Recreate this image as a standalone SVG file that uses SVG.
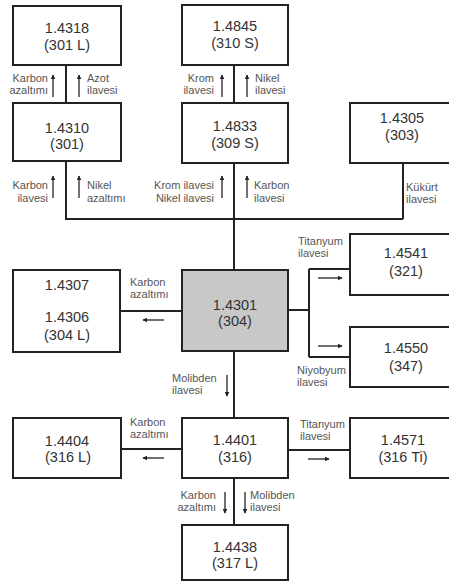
<svg xmlns="http://www.w3.org/2000/svg" width="449" height="586" viewBox="0 0 449 586">
<defs>
<marker id="ah" viewBox="0 0 8 8" refX="7" refY="4" markerWidth="5" markerHeight="5" orient="auto" markerUnits="userSpaceOnUse"><path d="M0,0 L8,4 L0,8 z" fill="#222"/></marker>
<style>
.box{fill:#fff;stroke:#222;stroke-width:2}
.gray{fill:#c8c8c8;stroke:#222;stroke-width:2}
.t{font-family:"Liberation Sans",Arial,sans-serif;font-size:14.5px;fill:#333;text-anchor:middle}
.l{font-family:"Liberation Sans",Arial,sans-serif;font-size:11px;fill:#555}
.r{text-anchor:end}
.c{fill:none;stroke:#222;stroke-width:2}
.a line{stroke:#222;stroke-width:1.3;marker-end:url(#ah)}
</style>
</defs>
<rect width="449" height="586" fill="#fff"/>
<g id="connectors">
<path class="c" d="M66,65 V103 M234,65 V103 M66,161 V219 H403 M234,161 V270 M403,163 V219 M120,311 H182 M288,310 H309 M309,269 V357 M309,269 H350 M309,357 H350 M234,351 V418 M121,449 H182 M288,450 H350 M234,478 V525"/>
<g class="a">
<line x1="53" y1="97" x2="53" y2="75"/><line x1="79" y1="97" x2="79" y2="75"/>
<line x1="222" y1="97" x2="222" y2="75"/><line x1="247" y1="97" x2="247" y2="75"/>
<line x1="53" y1="198" x2="53" y2="176"/><line x1="79" y1="198" x2="79" y2="176"/>
<line x1="222" y1="198" x2="222" y2="176"/><line x1="247" y1="198" x2="247" y2="176"/>
<line x1="318" y1="278" x2="342" y2="278"/><line x1="318" y1="346" x2="342" y2="346"/>
<line x1="164" y1="320" x2="143" y2="320"/><line x1="164" y1="458" x2="143" y2="458"/>
<line x1="308" y1="459" x2="329" y2="459"/>
<line x1="227" y1="375" x2="227" y2="396"/>
<line x1="225" y1="492" x2="225" y2="513"/><line x1="245" y1="492" x2="245" y2="513"/>
</g>
</g>
<g id="labels">
<text class="l r" x="48" y="82">Karbon</text><text class="l r" x="48" y="94">azaltımı</text>
<text class="l" x="87" y="82">Azot</text><text class="l" x="87" y="94">ilavesi</text>
<text class="l r" x="214" y="82">Krom</text><text class="l r" x="214" y="94">ilavesi</text>
<text class="l" x="255" y="82">Nikel</text><text class="l" x="255" y="94">ilavesi</text>
<text class="l r" x="48" y="189">Karbon</text><text class="l r" x="48" y="202">ilavesi</text>
<text class="l" x="87" y="189">Nikel</text><text class="l" x="87" y="202">azaltımı</text>
<text class="l r" x="214" y="189">Krom ilavesi</text><text class="l r" x="214" y="202">Nikel ilavesi</text>
<text class="l" x="254" y="189">Karbon</text><text class="l" x="254" y="202">ilavesi</text>
<text class="l" x="406" y="191">Kükürt</text><text class="l" x="406" y="203">ilavesi</text>
<text class="l" x="130" y="286">Karbon</text><text class="l" x="130" y="298">azaltımı</text>
<text class="l" x="298" y="245">Titanyum</text><text class="l" x="298" y="257">ilavesi</text>
<text class="l" x="297" y="374">Niyobyum</text><text class="l" x="297" y="386">ilavesi</text>
<text class="l" x="172" y="382">Molibden</text><text class="l" x="172" y="394">ilavesi</text>
<text class="l" x="130" y="426">Karbon</text><text class="l" x="130" y="438">azaltımı</text>
<text class="l" x="300" y="428">Titanyum</text><text class="l" x="300" y="440">ilavesi</text>
<text class="l r" x="216" y="499">Karbon</text><text class="l r" x="216" y="511">azaltımı</text>
<text class="l" x="250" y="499">Molibden</text><text class="l" x="250" y="511">ilavesi</text>
</g>
<g id="n4318"><rect class="box" x="13" y="6" width="108" height="59"/><text class="t" x="67" y="33">1.4318</text><text class="t" x="67" y="50">(301 L)</text></g>
<g id="n4845"><rect class="box" x="182" y="5" width="106" height="60"/><text class="t" x="235" y="31">1.4845</text><text class="t" x="235" y="48">(310 S)</text></g>
<g id="n4310"><rect class="box" x="13" y="103" width="108" height="58"/><text class="t" x="67" y="133">1.4310</text><text class="t" x="67" y="149">(301)</text></g>
<g id="n4833"><rect class="box" x="182" y="103" width="106" height="60"/><text class="t" x="235" y="131">1.4833</text><text class="t" x="235" y="148">(309 S)</text></g>
<g id="n4305"><rect class="box" x="350" y="103" width="104" height="60"/><text class="t" x="402" y="123">1.4305</text><text class="t" x="402" y="140">(303)</text></g>
<g id="n4307"><rect class="box" x="13" y="270" width="107" height="82"/><text class="t" x="67" y="290">1.4307</text><text class="t" x="67" y="322">1.4306</text><text class="t" x="67" y="340">(304 L)</text></g>
<g id="n4301"><rect class="gray" x="182" y="270" width="106" height="81"/><text class="t" x="235" y="310">1.4301</text><text class="t" x="235" y="326">(304)</text></g>
<g id="n4541"><rect class="box" x="350" y="234" width="104" height="61"/><text class="t" x="406" y="258">1.4541</text><text class="t" x="406" y="276">(321)</text></g>
<g id="n4550"><rect class="box" x="350" y="327" width="104" height="60"/><text class="t" x="406" y="353">1.4550</text><text class="t" x="406" y="371">(347)</text></g>
<g id="n4404"><rect class="box" x="13" y="418" width="108" height="60"/><text class="t" x="67" y="446">1.4404</text><text class="t" x="68" y="462">(316 L)</text></g>
<g id="n4401"><rect class="box" x="182" y="418" width="106" height="60"/><text class="t" x="235" y="445">1.4401</text><text class="t" x="235" y="462">(316)</text></g>
<g id="n4571"><rect class="box" x="350" y="418" width="104" height="60"/><text class="t" x="403" y="445">1.4571</text><text class="t" x="403" y="462">(316 Ti)</text></g>
<g id="n4438"><rect class="box" x="182" y="525" width="106" height="55"/><text class="t" x="235" y="552">1.4438</text><text class="t" x="235" y="568">(317 L)</text></g>
</svg>
